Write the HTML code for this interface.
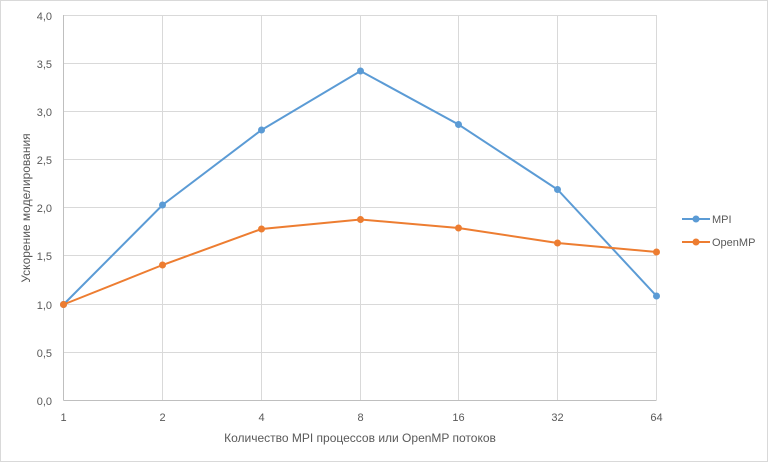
<!DOCTYPE html>
<html><head><meta charset="utf-8"><style>
body{margin:0;background:#fff}
svg{display:block;font-family:"Liberation Sans",sans-serif}
</style></head><body>
<svg width="768" height="462" viewBox="0 0 768 462">
<rect x="0.5" y="0.5" width="767" height="461" fill="#fff" stroke="#d9d9d9"/>
<g stroke="#d9d9d9" stroke-width="1">
<line x1="63.5" y1="15.5" x2="656.5" y2="15.5"/>
<line x1="63.5" y1="63.5" x2="656.5" y2="63.5"/>
<line x1="63.5" y1="111.5" x2="656.5" y2="111.5"/>
<line x1="63.5" y1="159.5" x2="656.5" y2="159.5"/>
<line x1="63.5" y1="207.5" x2="656.5" y2="207.5"/>
<line x1="63.5" y1="255.5" x2="656.5" y2="255.5"/>
<line x1="63.5" y1="304.5" x2="656.5" y2="304.5"/>
<line x1="63.5" y1="352.5" x2="656.5" y2="352.5"/>
<line x1="162.5" y1="15" x2="162.5" y2="400"/>
<line x1="261.5" y1="15" x2="261.5" y2="400"/>
<line x1="360.5" y1="15" x2="360.5" y2="400"/>
<line x1="458.5" y1="15" x2="458.5" y2="400"/>
<line x1="557.5" y1="15" x2="557.5" y2="400"/>
<line x1="656.5" y1="15" x2="656.5" y2="400"/>
</g>
<g stroke="#bfbfbf"><line x1="63.5" y1="15" x2="63.5" y2="400.5"/><line x1="63.5" y1="400.5" x2="656.5" y2="400.5"/></g>
<g font-size="11" fill="#595959" text-anchor="end">
<text x="52" y="20">4,0</text><text x="52" y="68">3,5</text><text x="52" y="116">3,0</text><text x="52" y="164">2,5</text><text x="52" y="212">2,0</text><text x="52" y="260">1,5</text><text x="52" y="309">1,0</text><text x="52" y="357">0,5</text><text x="52" y="405">0,0</text>
</g>
<g font-size="11" fill="#595959" text-anchor="middle">
<text x="63.5" y="421">1</text><text x="162.5" y="421">2</text><text x="261.5" y="421">4</text><text x="360.5" y="421">8</text><text x="458.5" y="421">16</text><text x="557.5" y="421">32</text><text x="656.5" y="421">64</text>
<text x="360" y="442" font-size="12">Количество MPI процессов или OpenMP потоков</text>
<text transform="translate(30,208) rotate(-90)" font-size="12">Ускорение моделирования</text>
</g>
<polyline fill="none" stroke="#5b9bd5" stroke-width="2" points="63.5,304.5 162.5,205 261.5,130 360.5,71 458.5,124.5 557.5,189.5 656.5,296"/>
<g fill="#5b9bd5"><circle cx="63.5" cy="304.5" r="3.5"/><circle cx="162.5" cy="205" r="3.5"/><circle cx="261.5" cy="130" r="3.5"/><circle cx="360.5" cy="71" r="3.5"/><circle cx="458.5" cy="124.5" r="3.5"/><circle cx="557.5" cy="189.5" r="3.5"/><circle cx="656.5" cy="296" r="3.5"/></g>
<polyline fill="none" stroke="#ed7d31" stroke-width="2" points="63.5,304.5 162.5,265 261.5,229 360.5,219.5 458.5,228 557.5,243 656.5,252"/>
<g fill="#ed7d31"><circle cx="63.5" cy="304.5" r="3.5"/><circle cx="162.5" cy="265" r="3.5"/><circle cx="261.5" cy="229" r="3.5"/><circle cx="360.5" cy="219.5" r="3.5"/><circle cx="458.5" cy="228" r="3.5"/><circle cx="557.5" cy="243" r="3.5"/><circle cx="656.5" cy="252" r="3.5"/></g>
<line x1="682" y1="219" x2="710" y2="219" stroke="#5b9bd5" stroke-width="2"/><circle cx="696" cy="219" r="3.5" fill="#5b9bd5"/>
<line x1="682" y1="242" x2="710" y2="242" stroke="#ed7d31" stroke-width="2"/><circle cx="696" cy="242" r="3.5" fill="#ed7d31"/>
<g font-size="11" fill="#595959"><text x="712" y="223">MPI</text><text x="712" y="246">OpenMP</text></g>
</svg>
</body></html>
